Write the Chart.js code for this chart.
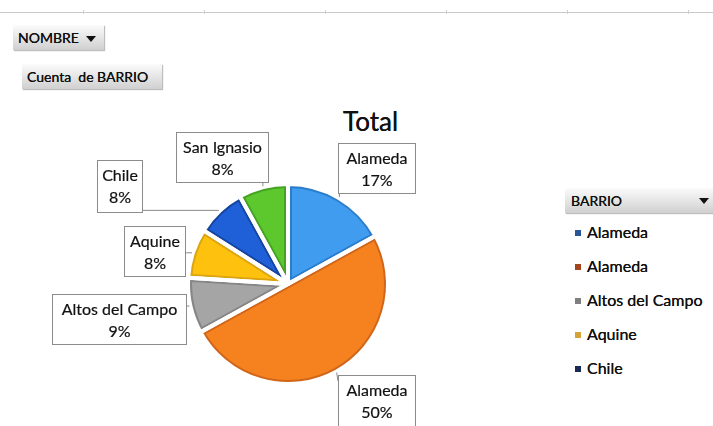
<!DOCTYPE html>
<html>
<head>
<meta charset="utf-8">
<script src="https://cdn.jsdelivr.net/npm/chart.js@4/dist/chart.umd.min.js"></script>
<style>
  html, body { margin: 0; padding: 0; background: #fff; }
  body { width: 713px; height: 426px; position: relative; overflow: hidden; font-family: Lato, "Open Sans", sans-serif; }
  #pie { position: absolute; left: 0; top: 0; }
  .rule { position: absolute; left: 0; top: 12px; width: 713px; height: 1px; background: #c9c9c9; }
  .tick { position: absolute; top: 10px; width: 1px; height: 4px; background: #d0d0d0; }
  .btn {
    position: absolute; height: 25px; line-height: 25px; font-size: 14px; color: #111;
    background: linear-gradient(#fbfbfb, #d0d0d0); box-shadow: 1px 1px 1px #bdbdbd;
    padding: 0 6px; box-sizing: border-box; white-space: nowrap;
    text-shadow: 0 0 0.3px #111;
  }
  .arrow { display: inline-block; width: 0; height: 0; border-left: 5px solid transparent; border-right: 5px solid transparent; border-top: 6px solid #111; vertical-align: middle; }
  #title { position: absolute; left: 343px; top: 105px; font-size: 26px; color: #111; text-shadow: 0 0 0.4px #111; }
  #legend { position: absolute; left: 575px; top: 220px; font-size: 16px; color: #111; text-shadow: 0 0 0.3px #111; }
  .item { height: 34px; line-height: 24px; white-space: nowrap; }
  .sw { display: inline-block; width: 6px; height: 6px; margin-right: 6px; vertical-align: middle; position: relative; top: -1px; }
</style>
</head>
<body>
<div class="rule"></div>
<div id="ticks"></div>
<div class="btn" style="left:13px; top:25px; width:91px; padding-left:5px;">NOMBRE&nbsp;&nbsp;<span class="arrow"></span></div>
<div class="btn" style="left:22px; top:64px; width:140px; padding-left:5px;">Cuenta&nbsp; de BARRIO</div>
<div class="btn" style="left:565px; top:188px; width:148px; padding-left:6px;">BARRIO<span class="arrow" style="position:absolute; right:4px; top:10px;"></span></div>
<div id="title">Total</div>
<div id="legend"></div>
<canvas id="pie" width="713" height="426"></canvas>
<script>
// Barrios and their share of the count
const barrios = ["Alameda", "Alameda", "Altos del Campo", "Aquine", "Chile", "San Ignasio"];
const porcentajes = [17, 50, 9, 8, 8, 8];
const sliceColors = ["#409cee", "#f5821f", "#a5a5a5", "#fec10e", "#1f60d8", "#5cc82e"];
const sliceEdges = ["#2c7ccc", "#d0661a", "#868686", "#dba512", "#15459e", "#45a222"];
const legendColors = ["#2a5597", "#a4461c", "#7f7f7f", "#d6a23a", "#1b2a55", "#4e7f2c"];
const legendVisible = 5;

// Callout boxes (left, top, width, height) for each slice label
const calloutBoxes = [
  [338, 143, 77, 50],
  [338, 375, 77, 60],
  [52, 294, 134, 50],
  [124, 226, 61, 50],
  [97, 160, 45, 52],
  [176, 132, 92, 50]
];

// column marks on the top rule
const tickXs = [83, 204, 325, 446, 567, 688];
const tickHost = document.getElementById('ticks');
tickXs.forEach(x => {
  const t = document.createElement('div');
  t.className = 'tick';
  t.style.left = x + 'px';
  tickHost.appendChild(t);
});

// legend (first entries of the BARRIO field)
const legend = document.getElementById('legend');
barrios.slice(0, legendVisible).forEach((name, i) => {
  const row = document.createElement('div');
  row.className = 'item';
  const sw = document.createElement('span');
  sw.className = 'sw';
  sw.style.background = legendColors[i];
  row.appendChild(sw);
  row.appendChild(document.createTextNode(name));
  legend.appendChild(row);
});

function slicePath(ctx, p) {
  ctx.beginPath();
  ctx.moveTo(p.x, p.y);
  ctx.arc(p.x, p.y, p.outerRadius, p.startAngle, p.endAngle);
  ctx.closePath();
}

// bevelled edges and white separators around each slice
const bevelPlugin = {
  id: 'bevel',
  afterDatasetsDraw(chart) {
    const ctx = chart.ctx;
    const arcs = chart.getDatasetMeta(0).data;
    arcs.forEach((arc, i) => {
      const p = arc.getProps(['x', 'y', 'startAngle', 'endAngle', 'outerRadius'], true);
      ctx.save();
      slicePath(ctx, p);
      ctx.clip();
      ctx.strokeStyle = sliceEdges[i];
      ctx.lineJoin = 'round';
      ctx.lineWidth = 8;
      slicePath(ctx, p);
      ctx.stroke();
      ctx.restore();
    });
    ctx.save();
    ctx.strokeStyle = '#ffffff';
    ctx.lineJoin = 'round';
    ctx.lineWidth = 4;
    arcs.forEach(arc => {
      const p = arc.getProps(['x', 'y', 'startAngle', 'endAngle', 'outerRadius'], true);
      slicePath(ctx, p);
      ctx.stroke();
    });
    ctx.restore();
  }
};

// draws boxed labels with leader lines to each slice
const calloutPlugin = {
  id: 'callouts',
  afterDatasetsDraw(chart) {
    const ctx = chart.ctx;
    const meta = chart.getDatasetMeta(0);
    ctx.save();
    meta.data.forEach((arc, i) => {
      const p = arc.getProps(['x', 'y', 'startAngle', 'endAngle', 'outerRadius'], true);
      const mid = (p.startAngle + p.endAngle) / 2;
      const ax = p.x + Math.cos(mid) * (p.outerRadius + 1);
      const ay = p.y + Math.sin(mid) * (p.outerRadius + 1);
      const [bx, by, bw, bh] = calloutBoxes[i];
      const nx = Math.min(Math.max(ax, bx), bx + bw);
      const ny = Math.min(Math.max(ay, by + 6), by + bh);
      ctx.strokeStyle = '#8a8a8a';
      ctx.lineWidth = 1;
      ctx.beginPath();
      ctx.moveTo(ax, ay);
      ctx.lineTo(nx, ny);
      ctx.stroke();
      ctx.fillStyle = '#ffffff';
      ctx.fillRect(bx + 0.5, by + 0.5, bw, bh);
      ctx.strokeStyle = '#8c8c8c';
      ctx.strokeRect(bx + 0.5, by + 0.5, bw, bh);
      ctx.fillStyle = '#111';
      ctx.strokeStyle = '#111';
      ctx.lineWidth = 0.2;
      ctx.font = '16px Lato, "Open Sans", sans-serif';
      ctx.textAlign = 'center';
      ctx.textBaseline = 'middle';
      const cx = bx + bw / 2 + 0.5;
      ctx.fillText(barrios[i], cx, by + 16);
      ctx.strokeText(barrios[i], cx, by + 16);
      ctx.fillText(porcentajes[i] + '%', cx, by + 38);
      ctx.strokeText(porcentajes[i] + '%', cx, by + 38);
    });
    ctx.restore();
  }
};

new Chart(document.getElementById('pie'), {
  type: 'pie',
  data: {
    labels: barrios,
    datasets: [{
      data: porcentajes,
      backgroundColor: sliceColors,
      borderWidth: 0
    }]
  },
  options: {
    responsive: false,
    animation: false,
    layout: { padding: { left: 188, right: 325, top: 184, bottom: 42 } },
    plugins: {
      legend: { display: false },
      tooltip: { enabled: false },
      title: { display: false }
    }
  },
  plugins: [bevelPlugin, calloutPlugin]
});
</script>
</body>
</html>
